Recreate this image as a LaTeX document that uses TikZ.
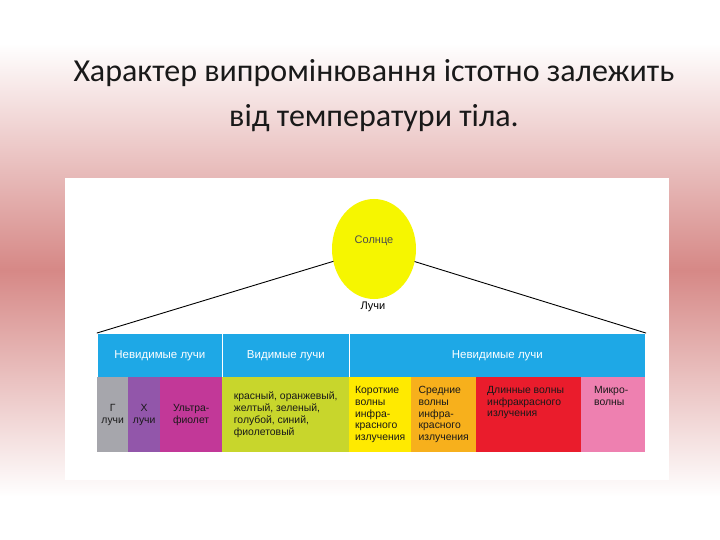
\documentclass[tikz,border=0pt]{standalone}
\usepackage{fontspec}
\setmainfont{Liberation Sans}
\newfontfamily\titlefont{Carlito}
\usetikzlibrary{shapes.geometric}
\definecolor{slidepink}{RGB}{214,136,134}
\definecolor{bandblue}{RGB}{30,168,230}
\definecolor{raygray}{RGB}{166,166,172}
\definecolor{raypurple}{RGB}{146,86,170}
\definecolor{raymagenta}{RGB}{194,56,152}
\definecolor{raylime}{RGB}{200,214,44}
\definecolor{rayyellow}{RGB}{255,234,0}
\definecolor{rayorange}{RGB}{247,176,28}
\definecolor{rayred}{RGB}{234,28,44}
\definecolor{raypink}{RGB}{238,128,176}
\definecolor{sunyellow}{RGB}{246,246,0}
\pgfdeclareverticalshading{slidebg}{100bp}{color(0bp)=(white); color(29bp)=(white); color(50bp)=(slidepink); color(71bp)=(white); color(100bp)=(white)}

\begin{document}
\begin{tikzpicture}[line cap=round,line join=round,x=1pt,y=-1pt,
  band/.style={draw=white,line width=0.8pt,fill=bandblue,minimum height=44pt,inner sep=0pt,anchor=north west,text=white,font=\fontsize{11.5}{13}\selectfont},
  cell/.style={fill=#1,minimum height=75pt,inner sep=0pt,anchor=north west},
  lbl/.style={font=\fontsize{10.4}{11.7}\selectfont,text=black!90,inner sep=0pt,align=left}]
\shade[shading=slidebg] (0,0) rectangle (720,540);
\useasboundingbox (0,0) rectangle (720,540);
% title
\node[font=\titlefont\fontsize{32}{45}\selectfont,align=center,text=black!90] (title) at (374,96)
  {Характер випромінювання істотно залежить\\від температури тіла.};
% white panel
\node[fill=white,minimum width=604pt,minimum height=302pt,anchor=north west,inner sep=0pt] (panel) at (65,178) {};
% sun and rays
\node[ellipse,fill=sunyellow,minimum width=84pt,minimum height=100pt,inner sep=0pt] (sun) at (374,249) {};
\node[font=\fontsize{11}{12}\selectfont,text=black!70] (sunlbl) at ([yshift=8pt]sun.center) {Солнце};
\node[font=\fontsize{11}{12}\selectfont] (rays) at (373,307) {Лучи};
% blue band
\node[band,minimum width=125pt] (inv1) at (97,333) {Невидимые лучи};
\node[band,minimum width=127pt] (vis) at (222,333) {Видимые лучи};
\node[band,minimum width=296pt] (inv2) at (349,333) {Невидимые лучи};
\draw[line width=0.9pt] (sun) -- (inv1.north west);
\draw[line width=0.9pt] (sun) -- (inv2.north east);
% colour cells
\node[cell=raygray,minimum width=31pt] (gam) at (97,377) {};
\node[cell=raypurple,minimum width=32pt] (xray) at (128,377) {};
\node[cell=raymagenta,minimum width=62pt] (uv) at (160,377) {};
\node[cell=raylime,minimum width=127pt] (light) at (222,377) {};
\node[cell=rayyellow,minimum width=62pt] (irs) at (349,377) {};
\node[cell=rayorange,minimum width=65pt] (irm) at (411,377) {};
\node[cell=rayred,minimum width=105pt] (irl) at (476,377) {};
\node[cell=raypink,minimum width=64pt] (micro) at (581,377) {};
% cell texts
\node[lbl,align=center] (gamlbl) at (gam) {Г\\лучи};
\node[lbl,align=center] (xraylbl) at (xray) {Х\\лучи};
\node[lbl] (uvlbl) at (uv) {Ультра-\\фиолет};
\node[lbl] (lightlbl) at (light) {красный, оранжевый,\\желтый, зеленый,\\голубой, синий,\\фиолетовый};
\node[lbl] (irslbl) at (irs) {Короткие\\волны\\инфра-\\красного\\излучения};
\node[lbl] (irmlbl) at (irm) {Средние\\волны\\инфра-\\красного\\излучения};
\node[lbl,anchor=north west] (irllbl) at ([xshift=11pt,yshift=-9pt]irl.north west) {Длинные волны\\инфракрасного\\излучения};
\node[lbl,anchor=north west] (microlbl) at ([xshift=13pt,yshift=-9pt]micro.north west) {Микро-\\волны};
\end{tikzpicture}
\end{document}
